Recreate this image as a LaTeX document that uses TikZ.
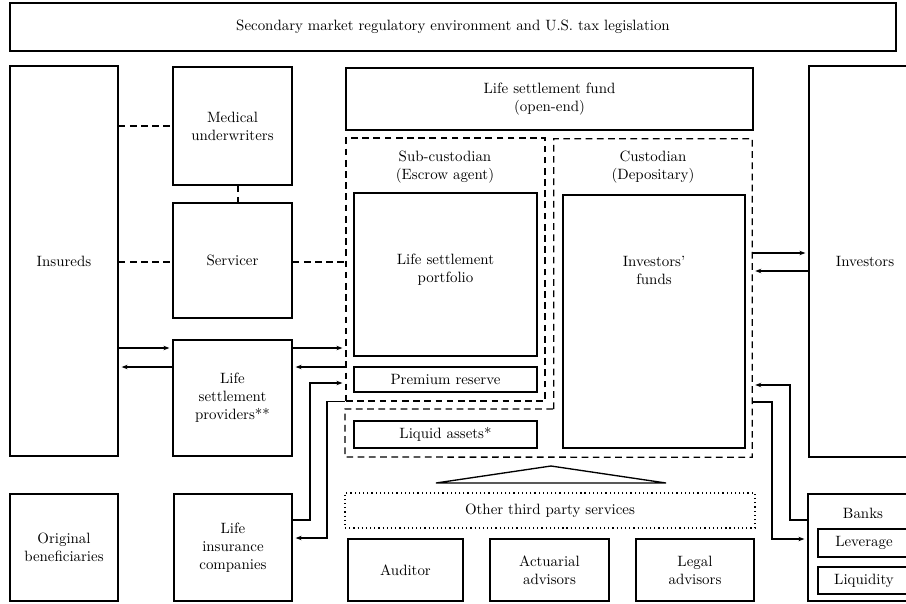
\documentclass[tikz,border=0pt]{standalone}
\usepackage{tikz}
\usetikzlibrary{arrows.meta,calc}

\tikzset{
  box/.style={draw, line width=0.9pt, inner sep=0pt, align=center},
  dbox/.style={draw, line width=0.9pt, inner sep=0pt, dash pattern=on 4.5pt off 3pt},
  obox/.style={draw, line width=0.8pt, inner sep=0pt, dotted},
  sz/.style 2 args={minimum width=#1*0.67pt, minimum height=#2*0.67pt},
  dline/.style={line width=0.9pt, dash pattern=on 4.5pt off 3pt},
  arr/.style={line width=0.9pt, -{Stealth[length=4pt,width=3pt]}, shorten >=2pt},
}

\begin{document}
\begin{tikzpicture}[x=0.67pt, y=-0.67pt]
\useasboundingbox (0,0) rectangle (906,603);
\clip (0,0) rectangle (906,603);
% Frame
\node [box, sz={886}{48}] (env) at (453,27) {Secondary market regulatory environment and U.S. tax legislation};
%
\node [box, sz={108}{390}] (ins) at (64,261) {Insureds};
\node [box, sz={119}{118}] (med) at (232.5,126) {Medical\\underwriters};
\node [box, sz={119}{115}] (srv) at (232.5,260.5) {Servicer};
\node [box, sz={119}{116}] (lsp) at (232.5,398) {Life\\settlement\\providers**};
\node [box, sz={108}{107}] (ben) at (64,547.5) {Original\\beneficiaries};
\node [box, sz={118}{107}] (lic) at (233,547.5) {Life\\insurance\\companies};
%
\node [box, sz={407}{62}] (lsf) at (549.5,99) {Life settlement fund\\(open-end)};
\node [dbox, sz={199}{263}] (sub) at (445.5,269.5) {};
\node [align=center] (subt) at (445,167) {Sub-custodian\\(Escrow agent)};
\node [box, sz={183}{163}] (lsport) at (445.5,274.5) {};
\node [align=center] (lsportt) at (445.5,270) {Life settlement\\portfolio};
\node [box, sz={183}{25}] (prem) at (445.5,379.5) {Premium reserve};
\node [box, sz={183}{27}] (liq) at (445.5,434.5) {Liquid assets*};
%
\node [inner sep=0pt, sz={198}{318}] (cus) at (653,298) {};
\draw [dline] (cus.south west |- 0,409) -- (cus.north west) -- (cus.north east) -- (cus.south east) -- (345,457) -- (345,409) -- cycle;
\node [align=center] (cust) at (653,167) {Custodian\\(Depositary)};
\node [box, sz={182}{253}] (fund) at (654,321.5) {};
\node [align=center] (fundt) at (654,270) {Investors'\\funds};
%
\draw [line width=0.9pt] (436,483) -- (551,466) -- (666,483) -- cycle;
\node [obox, sz={410}{35}] (oth) at (550,510.5) {Other third party services};
\node [box, sz={115}{62}] (aud) at (405.5,570) {Auditor};
\node [box, sz={119}{62}] (act) at (549.5,570) {Actuarial\\advisors};
\node [box, sz={118}{62}] (leg) at (695,570) {Legal\\advisors};
%
\node [box, sz={112}{391}] (inv) at (865,261.5) {Investors};
\node [box, sz={113}{107}] (bnk) at (864.5,547.5) {};
\node (bnkt) at (863,513) {Banks};
\node [box, sz={92}{28}] (lev) at (864,543) {Leverage};
\node [box, sz={92}{27}] (lqd) at (864,580.5) {Liquidity};
%
\coordinate (ra) at (0,348);
\coordinate (rb) at (0,367);
\coordinate (rc) at (0,253);
\coordinate (rd) at (0,271);
\coordinate (rs) at (0,262);
\coordinate (vx) at (238,0);
\coordinate (jc) at (0,520);
\coordinate (ja) at (310,383);
\coordinate (jb) at (327,538);
\coordinate (ke) at (0,520);
\coordinate (kf) at (0,402);
\coordinate (ka) at (790,385);
\coordinate (kb) at (772,539);
% dashed links
\draw [dline] (ins.east |- med) -- (med.west);
\draw [dline] (med.south -| vx) -- (srv.north -| vx);
\draw [dline] (ins.east |- rs) -- (srv.west |- rs);
\draw [dline] (srv.east |- rs) -- (sub.west |- rs);
% flows
\draw [arr] (ins.east |- ra) -- (lsp.west |- ra);
\draw [arr] (lsp.west |- rb) -- (ins.east |- rb);
\draw [arr] (lsp.east |- ra) -- (sub.west |- ra);
\draw [arr] (sub.west |- rb) -- (lsp.east |- rb);
\draw [arr] (lic.east |- jc) -| (ja) -- (sub.west |- ja);
\draw [arr] (sub.south west) -| (jb) -- (lic.east |- jb);
\draw [arr] (cus.east |- rc) -- (inv.west |- rc);
\draw [arr] (inv.west |- rd) -- (cus.east |- rd);
\draw [arr] (bnk.west |- ke) -| (ka) -- (cus.east |- ka);
\draw [arr] (cus.east |- kf) -| (kb) -- (bnk.west |- kb);
%
\end{tikzpicture}
\end{document}
